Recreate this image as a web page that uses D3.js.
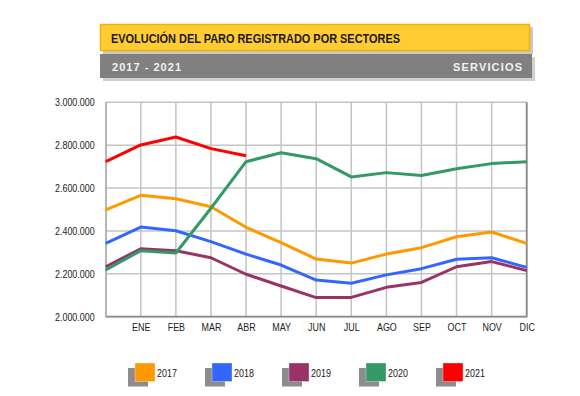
<!DOCTYPE html>
<html>
<head>
<meta charset="utf-8">
<script src="https://cdn.jsdelivr.net/npm/d3@7"></script>
<style>
  body { margin: 0; background: #fff; }
  svg { display: block; }
</style>
</head>
<body>
<div id="chart"></div>
<script>
// meses: el primer punto (sin etiqueta) es el dato de diciembre del año anterior
const months = ['', 'ENE', 'FEB', 'MAR', 'ABR', 'MAY', 'JUN', 'JUL', 'AGO', 'SEP', 'OCT', 'NOV', 'DIC'];
const yTicks = [2000000, 2200000, 2400000, 2600000, 2800000, 3000000];

const years = ['2017', '2018', '2019', '2020', '2021'];
const colors = ['#ff9900', '#3366ff', '#993366', '#339966', '#ff0000'];

const paro2017 = [2498000, 2566000, 2550000, 2513000, 2417000, 2345000, 2269000, 2250000, 2292000, 2322000, 2373000, 2395000, 2342000];
const paro2018 = [2342000, 2418000, 2401000, 2350000, 2292000, 2241000, 2171000, 2156000, 2195000, 2224000, 2268000, 2275000, 2230000];
const paro2019 = [2233000, 2317000, 2308000, 2275000, 2198000, 2143000, 2089000, 2090000, 2137000, 2160000, 2233000, 2257000, 2215000];
const paro2020 = [2218000, 2308000, 2297000, 2506000, 2723000, 2765000, 2737000, 2652000, 2672000, 2659000, 2690000, 2714000, 2723000];
const paro2021 = [2723000, 2801000, 2838000, 2784000, 2751000];

const series = [paro2017, paro2018, paro2019, paro2020, paro2021];

const width = 580, height = 396;
const plot = { left: 105.7, right: 526.7, top: 102.3, bottom: 316.7 };
const narrow = "'Liberation Sans Narrow', 'Arial Narrow', 'Liberation Sans', Arial, sans-serif";
const sans = "'Liberation Sans', Arial, Helvetica, sans-serif";

// estrecha el texto (no hay Arial Narrow instalada)
function squeeze(sel, factor) {
  sel.each(function() {
    const w = this.getComputedTextLength();
    if (w > 0) {
      d3.select(this).attr('textLength', w * factor).attr('lengthAdjust', 'spacingAndGlyphs');
    }
  });
}

const svg = d3.select('#chart')
  .append('svg')
  .attr('width', width)
  .attr('height', height);

// --- cabecera ---
svg.append('rect').attr('x', 103).attr('y', 27).attr('width', 430).attr('height', 27).attr('fill', '#c8c8c8');
svg.append('rect').attr('x', 100.5).attr('y', 24.5).attr('width', 429).attr('height', 26)
  .attr('fill', '#ffcc33').attr('stroke', '#f0b400').attr('stroke-width', 1.5);
svg.append('text')
  .attr('x', 111).attr('y', 42.5)
  .attr('font-family', narrow).attr('font-weight', 'bold').attr('font-size', 13.5)
  .attr('fill', '#1a1a1a')
  .attr('textLength', 289).attr('lengthAdjust', 'spacingAndGlyphs')
  .text('EVOLUCIÓN DEL PARO REGISTRADO POR SECTORES');

svg.append('rect').attr('x', 103).attr('y', 57).attr('width', 432).attr('height', 24).attr('fill', '#d0d0d0');
svg.append('rect').attr('x', 100).attr('y', 54).attr('width', 432).attr('height', 24).attr('fill', '#808080');
svg.append('text')
  .attr('x', 112).attr('y', 70.5)
  .attr('font-family', sans).attr('font-weight', 'bold').attr('font-size', 11)
  .attr('fill', '#f2f2f2')
  .attr('textLength', 69).attr('lengthAdjust', 'spacing')
  .text('2017 - 2021');
svg.append('text')
  .attr('x', 453).attr('y', 70.5)
  .attr('font-family', sans).attr('font-weight', 'bold').attr('font-size', 11)
  .attr('fill', '#f2f2f2')
  .attr('textLength', 69).attr('lengthAdjust', 'spacing')
  .text('SERVICIOS');

// --- escalas ---
const x = d3.scalePoint()
  .domain(d3.range(months.length))
  .range([plot.left, plot.right]);

const y = d3.scaleLinear()
  .domain([2000000, 3000000])
  .range([plot.bottom, plot.top]);

const fmt = v => d3.format(',')(v).replace(/,/g, '.');

// rejilla
const grid = svg.append('g');
grid.selectAll('line.h')
  .data(yTicks)
  .enter()
  .append('line')
  .attr('x1', plot.left).attr('x2', plot.right)
  .attr('y1', d => y(d)).attr('y2', d => y(d))
  .attr('stroke', '#c4c4c4').attr('stroke-width', 1.5);
grid.selectAll('line.v')
  .data(d3.range(months.length))
  .enter()
  .append('line')
  .attr('x1', d => x(d)).attr('x2', d => x(d))
  .attr('y1', plot.top).attr('y2', plot.bottom)
  .attr('stroke', '#c4c4c4').attr('stroke-width', 1.5);

// borde derecho e inferior
svg.append('path')
  .attr('d', `M${plot.right},${plot.top}V${plot.bottom}H${plot.left}`)
  .attr('fill', 'none').attr('stroke', '#8c8c8c').attr('stroke-width', 1.8);

// eje Y
const yAxis = svg.append('g')
  .attr('transform', `translate(${plot.left},0)`)
  .call(d3.axisLeft(y).tickValues(yTicks).tickFormat(fmt).tickSize(0).tickPadding(11));
yAxis.select('.domain').attr('stroke', '#b0b0b0').attr('stroke-width', 1.5);
yAxis.selectAll('text')
  .attr('font-family', narrow).attr('font-size', 10.5).attr('fill', '#222')
  .call(squeeze, 0.85);

// eje X
const xAxis = svg.append('g')
  .attr('transform', `translate(0,${plot.bottom})`)
  .call(d3.axisBottom(x).tickFormat(i => months[i]).tickSize(0).tickPadding(7));
xAxis.select('.domain').remove();
xAxis.selectAll('text')
  .attr('font-family', narrow).attr('font-size', 10.5).attr('fill', '#222')
  .call(squeeze, 0.85);

// líneas
const line = d3.line()
  .x((d, i) => x(i))
  .y(d => y(d));

svg.append('g')
  .selectAll('path')
  .data(series)
  .enter()
  .append('path')
  .attr('d', d => line(d))
  .attr('fill', 'none')
  .attr('stroke', (d, i) => colors[i])
  .attr('stroke-width', 3)
  .attr('stroke-linejoin', 'round');

// leyenda
const legend = svg.append('g')
  .selectAll('g')
  .data(years)
  .enter()
  .append('g')
  .attr('transform', (d, i) => `translate(${135 + i * 77},363)`);
legend.append('rect')
  .attr('x', -7).attr('y', 5).attr('width', 20).attr('height', 18.5)
  .attr('fill', '#8c8c8c');
legend.append('rect')
  .attr('x', 0).attr('y', 0).attr('width', 20).attr('height', 18.5)
  .attr('fill', (d, i) => colors[i])
  .attr('stroke', '#ffffff').attr('stroke-opacity', 0.4).attr('stroke-width', 0.8);
legend.append('text')
  .attr('x', 22).attr('y', 14)
  .attr('font-family', narrow).attr('font-size', 10.5).attr('fill', '#222')
  .text(d => d)
  .call(squeeze, 0.85);
</script>
</body>
</html>
